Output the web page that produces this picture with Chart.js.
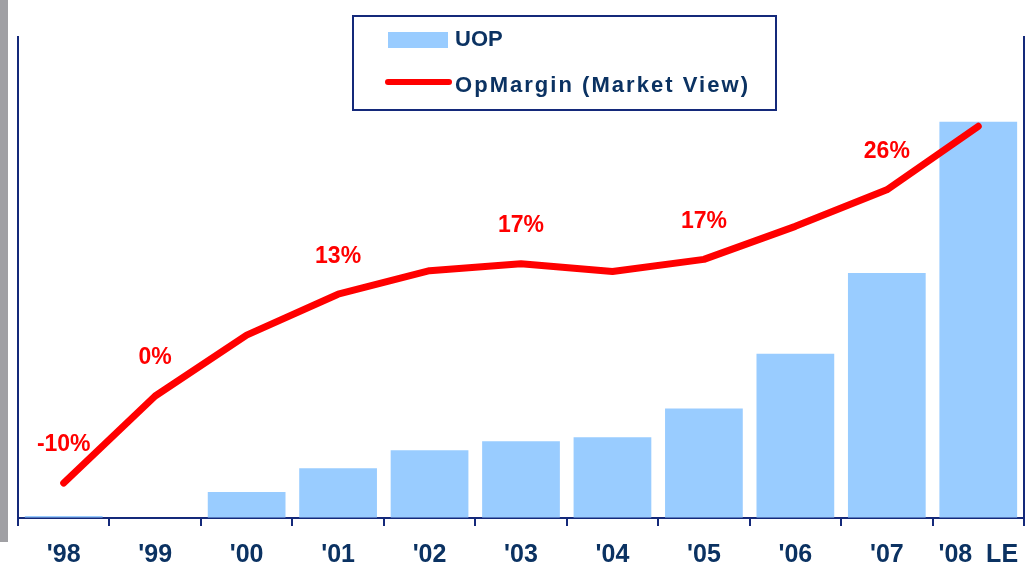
<!DOCTYPE html>
<html>
<head>
<meta charset="utf-8">
<script src="https://cdn.jsdelivr.net/npm/chart.js@4"></script>
<style>
	html, body { margin: 0; padding: 0; background: #fff; }
	#wrap { position: relative; width: 1027px; height: 563px; }
	#sidebar { position: absolute; left: 0; top: 0; width: 8px; height: 542px; background: #a0a0a4; }
</style>
</head>
<body>
<div id="wrap">
	<div id="sidebar"></div>
	<canvas id="opChart" width="1027" height="563"></canvas>
</div>
<script>
const years = ["'98", "'99", "'00", "'01", "'02", "'03", "'04", "'05", "'06", "'07", "'08  LE"];
const uop = [2, 0, 26, 50, 68, 77, 81, 110, 165, 246, 398];
const opMargin = [-10, 0, 7.0, 11.7, 14.4, 15.2, 14.3, 15.7, 19.5, 23.7, 31.0];
const marginLabels = ["-10%", "0%", null, "13%", null, "17%", null, "17%", null, "26%", null];

const NAVY = "#14297a";
const TEXT = "#0b3262";
const FONT = "'Liberation Sans', Arial, sans-serif";

// percent labels above the line points
const pctLabels = {
	id: "pctLabels",
	afterDatasetsDraw(chart) {
		const { ctx } = chart;
		const meta = chart.getDatasetMeta(1);
		ctx.save();
		ctx.font = "bold 23px " + FONT;
		ctx.fillStyle = "#ff0000";
		ctx.textAlign = "center";
		ctx.textBaseline = "middle";
		meta.data.forEach((pt, i) => {
			if (!marginLabels[i]) return;
			ctx.fillText(marginLabels[i], pt.x, pt.y - 38);
		});
		ctx.restore();
	},
};

// boxed legend in the top middle
const boxLegend = {
	id: "boxLegend",
	afterDraw(chart) {
		const { ctx } = chart;
		ctx.save();
		ctx.fillStyle = "#fff";
		ctx.fillRect(353, 16, 423, 94);
		ctx.strokeStyle = NAVY;
		ctx.lineWidth = 2;
		ctx.strokeRect(353, 16, 423, 94);

		ctx.fillStyle = "#99ccff";
		ctx.fillRect(388, 32, 60, 16);

		ctx.strokeStyle = "#ff0000";
		ctx.lineWidth = 6;
		ctx.lineCap = "round";
		ctx.beginPath();
		ctx.moveTo(388, 82);
		ctx.lineTo(449, 82);
		ctx.stroke();

		ctx.fillStyle = TEXT;
		ctx.textBaseline = "middle";
		ctx.font = "bold 22px " + FONT;
		ctx.fillText("UOP", 455, 40);
		const txt = "OpMargin (Market View)";
		const w = ctx.measureText(txt).width;
		ctx.letterSpacing = Math.max(0, (293 - w) / (txt.length - 1)) + "px";
		ctx.fillText(txt, 455, 86);
		ctx.restore();
	},
};

new Chart(document.getElementById("opChart"), {
	data: {
		labels: years,
		datasets: [
			{
				type: "bar",
				label: "UOP",
				data: uop,
				backgroundColor: "#99ccff",
				categoryPercentage: 1.0,
				barPercentage: 0.85,
				yAxisID: "y",
				order: 2,
			},
			{
				type: "line",
				label: "OpMargin (Market View)",
				data: opMargin,
				borderColor: "#ff0000",
				borderWidth: 7,
				borderCapStyle: "round",
				borderJoinStyle: "round",
				pointRadius: 0,
				tension: 0,
				yAxisID: "y2",
				order: 1,
			},
		],
	},
	plugins: [pctLabels, boxLegend],
	options: {
		responsive: false,
		animation: false,
		layout: { padding: { left: 18, right: 3, top: 37, bottom: 0 } },
		plugins: {
			legend: { display: false },
			tooltip: { enabled: false },
		},
		scales: {
			x: {
				offset: true,
				afterFit(scale) {
					// keep the plot area fixed, labels may overhang
					scale.height = 45;
					scale.paddingLeft = 0;
					scale.paddingRight = 0;
				},
				grid: {
					offset: true,
					drawOnChartArea: false,
					tickLength: 8,
					color: NAVY,
					lineWidth: 2,
				},
				border: { color: NAVY, width: 2 },
				ticks: {
					color: TEXT,
					font: { family: FONT, size: 25, weight: "bold" },
					padding: 14,
					maxRotation: 0,
				},
			},
			y: {
				position: "left",
				min: 0,
				max: 483,
				afterFit(scale) { scale.width = 0; },
				grid: { drawOnChartArea: false, drawTicks: false },
				border: { color: NAVY, width: 2 },
				ticks: { display: false },
			},
			y2: {
				position: "right",
				min: -14.02,
				max: 41.26,
				afterFit(scale) { scale.width = 0; },
				grid: { drawOnChartArea: false, drawTicks: false },
				border: { color: NAVY, width: 2 },
				ticks: { display: false },
			},
		},
	},
});
</script>
</body>
</html>
